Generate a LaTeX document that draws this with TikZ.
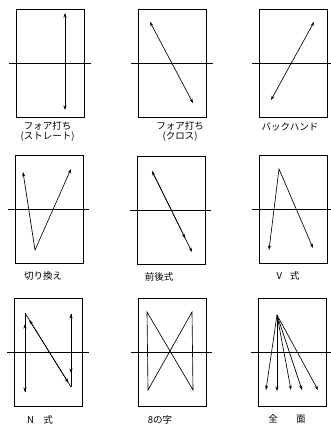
\documentclass[tikz,border=0pt]{standalone}
\usepackage{fontspec}
\newfontfamily\jpfont{Noto Sans CJK JP}
\usetikzlibrary{arrows.meta, positioning}

\begin{document}
\begin{tikzpicture}[
x=1pt, y=-1pt,
node distance=4pt,
court/.style={draw, line width=0.9pt, minimum width=68pt, minimum height=108pt, inner sep=0pt},
net/.style={line width=0.8pt},
stroke/.style={line width=0.65pt},
arrow/.style={stroke, -{Stealth[length=4.5pt, width=3pt]}},
twoway/.style={stroke, {Stealth[length=4.5pt, width=3pt]}-{Stealth[length=4.5pt, width=3pt]}},
caption/.style={font=\jpfont\fontsize{9.5}{10}\selectfont, align=center, inner sep=0pt}
]
\useasboundingbox (0,0) rectangle (330,428);

% courts
\node[court] (c1) at (50.5,63) {};
\node[court] (c2) at (172.5,63) {};
\node[court] (c3) at (293.5,63) {};
\node[court] (c4) at (49,209.5) {};
\node[court] (c5) at (171,210) {};
\node[court] (c6) at (293,209.5) {};
\node[court] (c7) at (48.5,352.5) {};
\node[court] (c8) at (172,352.5) {};
\node[court] (c9) at (292,352) {};

% nets
\foreach \c in {c1,c2,c3,c4,c5,c6,c7,c8,c9}
  \draw[net] ([xshift=-7pt]\c.west) -- ([xshift=6pt]\c.east);

% captions
\node[caption, below=4pt of c1, xshift=-3pt] (t1) {フォア打ち\\(ストレート)};
\node[caption, below=4pt of c2, xshift=7.5pt] (t2) {フォア打ち\\(クロス)};
\node[caption, below=5pt of c3, xshift=-3.5pt] (t3) {バックハンド};
\node[caption, below=7.5pt of c4, xshift=-6pt] (t4) {切り換え};
\node[caption, below=7.5pt of c5, xshift=-12pt] (t5) {前後式};
\node[caption, below=7pt of c6, xshift=-5pt] (t6) {V\hspace{0.8em}式};
\node[caption, below=8pt of c7, xshift=-8.5pt] (t7) {N\hspace{1em}式};
\node[caption, below=8pt of c8, xshift=-12pt] (t8) {8の字};
\node[caption, below=8pt of c9, xshift=-5pt] (t9) {全\hspace{1.9em}面};

% straight
\coordinate (s1) at (65,13);
\coordinate (s2) at (65,110);
\draw[twoway] (s1) -- (s2);

% cross
\coordinate (x1) at (150,22);
\coordinate (x2) at (193,103);
\draw[twoway] (x1) -- (x2);

% backhand
\coordinate (b1) at (314,22);
\coordinate (b2) at (271,100);
\draw[twoway] (b1) -- (b2);

% switch
\coordinate (w1) at (23,172);
\coordinate (w2) at (35,250);
\coordinate (w3) at (71,169);
\draw[twoway] (w1) -- (w2) -- (w3);

% front and back
\coordinate (f1) at (152,171);
\coordinate (f2) at (192,252);
\draw[twoway] (f1) -- (f2);
\draw[arrow, shorten >=15pt] (f1) -- (f2);

% V
\coordinate (v1) at (269,250);
\coordinate (v2) at (279,169);
\coordinate (v3) at (313,248);
\draw[twoway] (v1) -- (v2) -- (v3);

% N
\coordinate (n1) at (25,313);
\coordinate (n2) at (25,392);
\coordinate (n3) at (71,387);
\coordinate (n4) at (71,314);
\draw[arrow] (n1) -- (n2);
\draw[arrow, shorten >=11pt] (n2) -- (n1);
\draw[stroke] (n1) -- (n3);
\draw[twoway, shorten <=8pt, shorten >=5pt] (n1) -- (n3);
\draw[arrow] (n3) -- (n4);
\draw[arrow, shorten >=14pt] (n4) -- (n3);

% figure eight
\coordinate (e1) at (147,312);
\coordinate (e2) at (192,312);
\coordinate (e3) at (148,390);
\coordinate (e4) at (193,390);
\draw[stroke] (e1) -- (e4) -- (e2) -- (e3) -- cycle;

% all over
\coordinate (z0) at (277,315);
\foreach \i/\x/\y in {1/266/390, 2/277/391, 3/291/390, 4/302/390, 5/318/390}
  \coordinate (z\i) at (\x,\y);
\foreach \i in {1,...,5}
  \draw[arrow] (z0) -- (z\i);

\end{tikzpicture}
\end{document}
